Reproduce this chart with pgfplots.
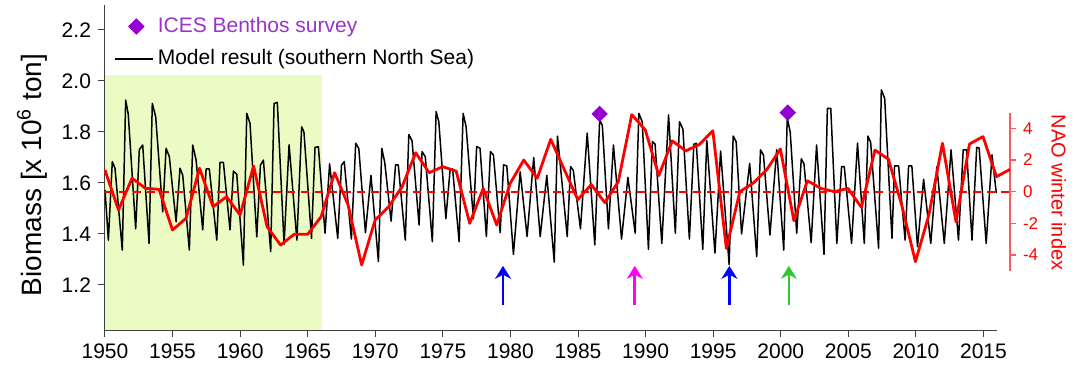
\documentclass[border=0pt]{standalone}
\usepackage{fontspec}
\setmainfont{Liberation Sans}
\usepackage{pgfplots}
\pgfplotsset{compat=1.18}
\usetikzlibrary{arrows.meta}
\definecolor{shade}{RGB}{234,252,196}
\definecolor{ices}{RGB}{148,0,211}
\definecolor{icestext}{RGB}{153,51,204}
\definecolor{arrgreen}{RGB}{50,200,50}
\definecolor{arrblue}{RGB}{0,0,255}
\definecolor{arrmag}{RGB}{255,0,255}
\definecolor{naored}{RGB}{255,0,0}
\definecolor{naoaxis}{RGB}{255,90,90}
\pgfplotsset{
  diamleg/.style={legend image code/.code={\draw[##1] (0.06cm,0cm) (0.72cm,0cm) plot coordinates {(0.43cm,0cm)};}},
  lineleg/.style={legend image code/.code={\draw[##1] (0.06cm,0cm) -- (0.72cm,0cm);}},
}

\pgfplotstableread{
x y
1950.00 1.573
1950.25 1.376
1950.54 1.684
1950.74 1.658
1951.28 1.337
1951.53 1.925
1951.72 1.870
1952.27 1.420
1952.54 1.731
1952.79 1.749
1953.26 1.363
1953.50 1.912
1953.75 1.860
1954.27 1.487
1954.52 1.736
1954.76 1.703
1955.26 1.448
1955.55 1.658
1955.75 1.631
1956.24 1.337
1956.49 1.749
1956.74 1.690
1957.23 1.416
1957.48 1.655
1957.72 1.655
1958.27 1.376
1958.51 1.681
1958.76 1.681
1959.25 1.416
1959.50 1.647
1959.75 1.634
1960.24 1.278
1960.49 1.873
1960.73 1.834
1961.23 1.389
1961.50 1.670
1961.72 1.690
1962.26 1.331
1962.51 1.912
1962.75 1.916
1963.25 1.360
1963.62 1.750
1964.20 1.376
1964.55 1.820
1964.72 1.800
1965.28 1.383
1965.54 1.740
1965.79 1.742
1966.28 1.403
1966.62 1.675
1967.22 1.383
1967.50 1.670
1967.70 1.684
1968.23 1.380
1968.55 1.756
1968.78 1.735
1969.27 1.405
1969.68 1.630
1970.23 1.292
1970.48 1.736
1970.70 1.680
1971.17 1.450
1971.50 1.671
1971.70 1.671
1972.22 1.376
1972.48 1.790
1972.72 1.765
1973.24 1.435
1973.46 1.723
1973.70 1.703
1974.22 1.370
1974.50 1.880
1974.70 1.840
1975.22 1.460
1975.54 1.655
1975.72 1.655
1976.20 1.370
1976.50 1.873
1976.72 1.820
1977.26 1.460
1977.50 1.743
1977.75 1.736
1978.22 1.390
1978.52 1.723
1978.74 1.710
1979.24 1.405
1979.49 1.671
1979.73 1.667
1980.22 1.320
1980.72 1.644
1981.23 1.390
1981.72 1.700
1982.20 1.390
1982.69 1.630
1983.24 1.290
1983.48 1.784
1984.20 1.390
1984.45 1.664
1984.65 1.650
1985.18 1.420
1985.68 1.796
1986.24 1.357
1986.60 1.847
1986.80 1.825
1987.25 1.420
1987.62 1.749
1988.22 1.380
1988.69 1.622
1989.23 1.403
1989.50 1.873
1989.75 1.840
1990.21 1.340
1990.50 1.762
1990.70 1.753
1991.20 1.363
1991.70 1.867
1992.20 1.403
1992.51 1.840
1992.76 1.812
1993.24 1.380
1993.57 1.752
1993.75 1.756
1994.23 1.340
1994.53 1.766
1995.13 1.325
1995.55 1.725
1996.18 1.280
1996.48 1.784
1996.70 1.762
1997.10 1.400
1997.70 1.677
1998.22 1.311
1998.50 1.730
1998.72 1.710
1999.20 1.396
1999.70 1.731
2000.22 1.337
2000.48 1.855
2000.70 1.800
2001.18 1.403
2001.52 1.695
2001.72 1.675
2002.25 1.366
2002.65 1.749
2003.20 1.320
2003.45 1.893
2003.70 1.893
2004.15 1.363
2004.50 1.664
2004.70 1.664
2005.24 1.363
2005.68 1.756
2006.18 1.363
2006.45 1.784
2006.65 1.760
2007.24 1.344
2007.44 1.965
2007.69 1.932
2008.23 1.383
2008.42 1.667
2008.72 1.667
2009.20 1.376
2009.46 1.667
2009.70 1.667
2010.12 1.350
2010.57 1.615
2011.10 1.363
2011.55 1.664
2012.10 1.363
2012.60 1.730
2013.15 1.376
2013.50 1.730
2013.75 1.730
2014.15 1.376
2014.50 1.740
2014.68 1.737
2015.20 1.363
2015.63 1.710
2015.95 1.560
}\model

\pgfplotstableread{
x y
1950 1.37
1951 -1.16
1952 0.85
1953 0.21
1954 0.15
1955 -2.42
1956 -1.68
1957 1.48
1958 -0.95
1959 -0.32
1960 -1.47
1961 1.62
1962 -2.21
1963 -3.37
1964 -2.69
1965 -2.69
1966 -1.58
1967 1.20
1968 -0.84
1969 -4.63
1970 -1.79
1971 -0.95
1972 0.32
1973 2.46
1974 1.20
1975 1.58
1976 1.30
1977 -2.00
1978 0.21
1979 -2.10
1980 0.53
1981 2.00
1982 0.85
1983 3.31
1984 1.40
1985 -0.50
1986 0.45
1987 -0.69
1988 0.63
1989 4.87
1990 3.90
1991 1.02
1992 3.21
1993 2.58
1994 2.98
1995 3.85
1996 -3.58
1997 0.00
1998 0.55
1999 1.40
2000 2.70
2001 -1.83
2002 0.69
2003 0.21
2004 0.00
2005 0.21
2006 -0.99
2007 2.63
2008 2.05
2009 -0.90
2010 -4.42
2011 -1.45
2012 3.06
2013 -1.90
2014 3.01
2015 3.48
2016 0.95
2017 1.41
}\nao

\begin{document}
\begin{tikzpicture}
\useasboundingbox (-52.5pt,-17.5pt) rectangle (485.5pt,165pt);
\begin{axis}[
  at={(0,0)}, anchor=south west,
  scale only axis, width=446pt, height=162.5pt,
  xmin=1950, xmax=2016, ymin=1.0235, ymax=2.298,
  axis x line=bottom, axis y line=left,
  axis line style={-, black!75, line width=0.5pt},
  tick style={black!75, line width=0.5pt},
  tick align=outside, major tick length=3.5pt,
  xtick={1950,1955,1960,1965,1970,1975,1980,1985,1990,1995,2000,2005,2010,2015},
  ytick={1.2,1.4,1.6,1.8,2.0,2.2},
  minor tick num=0,
  /pgf/number format/assume math mode=true,
  tick label style={font=\fontsize{10.5}{12}\selectfont, black},
  x tick label style={/pgf/number format/1000 sep={}},
  y tick label style={/pgf/number format/fixed, /pgf/number format/fixed zerofill, /pgf/number format/precision=1},
  ylabel={Biomass [x 10\textsuperscript{6} ton]},
  every axis y label/.style={at={(axis description cs:-0.0818,0.477)}, anchor=center, rotate=90, font=\fontsize{14}{16}\selectfont},
  legend style={draw=none, fill=none, at={(axis description cs:0,1)}, anchor=north west, xshift=1.5pt, yshift=-2pt, row sep=3pt, font=\fontsize{10.5}{12}\selectfont, legend cell align=left},
]
\addlegendimage{only marks, mark=square*, mark size=2.7pt, mark options={rotate=45, fill=ices, draw=ices}, diamleg}
\addlegendentry{\textcolor{icestext}{ICES Benthos survey}}
\addlegendimage{black, line width=0.9pt, lineleg}
\addlegendentry{Model result (southern North Sea)}
\addplot[draw=none, fill=shade, forget plot] coordinates {(1950,1.0235) (1950,2.024) (1966.06,2.024) (1966.06,1.0235)} -- cycle;
\addplot[black, line width=0.75pt, line join=round, forget plot] table[x=x,y=y] {\model};
\addplot[only marks, mark=square*, mark size=2.7pt, mark options={rotate=45, fill=ices, draw=ices}, forget plot] coordinates {(1986.6,1.871) (2000.52,1.876)};
\addplot[arrblue, line width=1.3pt, -{Stealth[length=6.5pt,width=8pt]}, forget plot] coordinates {(1979.45,1.12) (1979.45,1.275)};
\addplot[arrmag, line width=1.3pt, -{Stealth[length=6.5pt,width=8pt]}, forget plot] coordinates {(1989.2,1.12) (1989.2,1.275)};
\addplot[arrblue, line width=1.3pt, -{Stealth[length=6.5pt,width=8pt]}, forget plot] coordinates {(1996.2,1.12) (1996.2,1.275)};
\addplot[arrgreen, line width=1.3pt, -{Stealth[length=6.5pt,width=8pt]}, forget plot] coordinates {(2000.6,1.12) (2000.6,1.275)};
\end{axis}
\begin{axis}[
  at={(0,29.575pt)}, anchor=south west,
  scale only axis, width=452.5pt, height=79.15pt,
  xmin=1950, xmax=2017, ymin=-5, ymax=5,
  axis x line=none, axis y line=right,
  axis line style={-, naoaxis, line width=0.6pt},
  tick style={naoaxis, line width=0.6pt},
  tick align=outside, major tick length=3pt,
  ytick={-4,-2,0,2,4}, minor tick num=0,
  /pgf/number format/assume math mode=true,
  y tick label style={font=\fontsize{8.5}{10}\selectfont, text=naored},
  ylabel={NAO winter index},
  every axis y label/.style={at={(axis description cs:1.054,0.495)}, anchor=center, rotate=-90, font=\fontsize{10}{12}\selectfont, text=naored},
  clip=false,
]
\addplot[naored, line width=0.9pt, dash pattern=on 4pt off 3pt] coordinates {(1950,0) (2017,0)};
\addplot[naored, line width=1.4pt, line join=round] table[x=x,y=y] {\nao};
\end{axis}
\end{tikzpicture}
\end{document}
